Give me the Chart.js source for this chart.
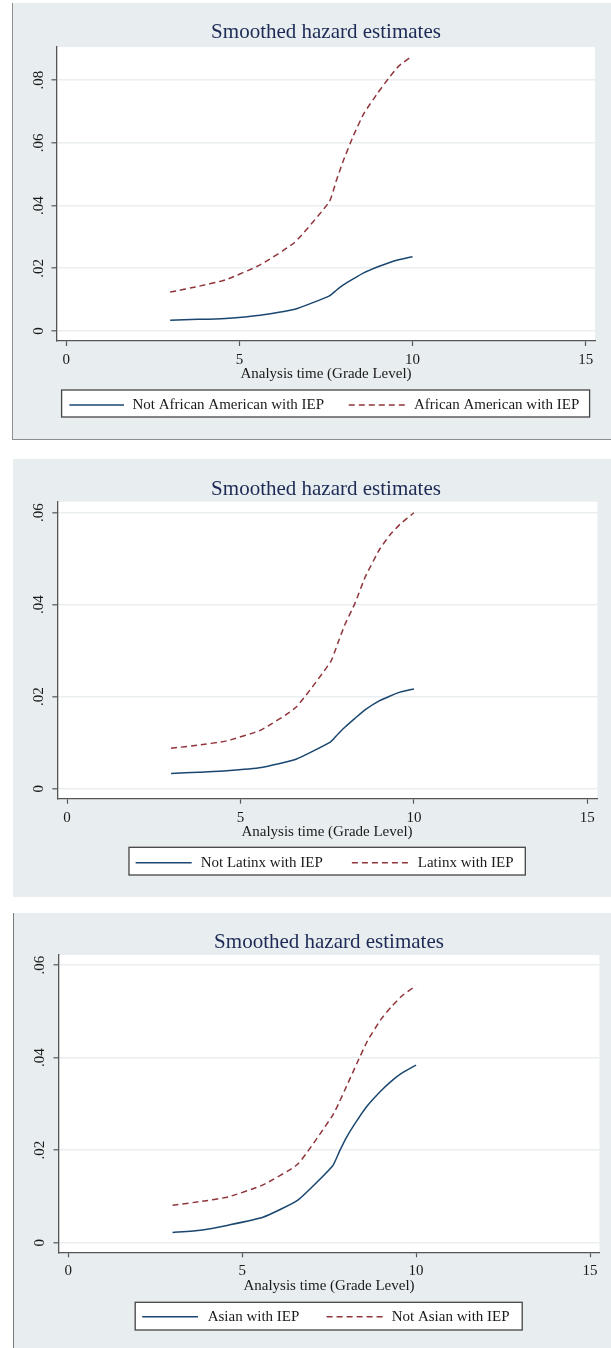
<!DOCTYPE html>
<html>
<head>
<meta charset="utf-8">
<script src="https://cdn.jsdelivr.net/npm/chart.js@4.4.0/dist/chart.umd.min.js"></script>
<style>
  html, body { margin: 0; padding: 0; background: #fff; }
  body { position: relative; width: 611px; height: 1348px; overflow: hidden; }
  .panel { position: absolute; background: #e8eef0; box-sizing: border-box; }
  canvas { position: absolute; left: 0; }
</style>
</head>
<body>
<div class="panel" style="left:12px;top:3px;width:599px;height:437px;border-left:1.5px solid #8e8e8e;border-bottom:1.5px solid #8e8e8e;"></div>
<div class="panel" style="left:13px;top:459px;width:598px;height:438px;"></div>
<div class="panel" style="left:13px;top:913px;width:598px;height:435px;border-left:1.5px solid #7a7a7a;"></div>

<canvas id="c1" width="611" height="440" style="top:0px;width:611px;height:440px;"></canvas>
<canvas id="c2" width="611" height="450" style="top:450px;width:611px;height:450px;"></canvas>
<canvas id="c3" width="611" height="443" style="top:905px;width:611px;height:443px;"></canvas>

<script>
var grades = [3, 3.8, 4.6, 5.6, 6.6, 7.6, 7.8, 8, 8.3, 8.6, 9, 9.3, 9.6, 10];

var notAfricanAmerican = [0.0034, 0.0037, 0.0040, 0.0050, 0.0069, 0.0112, 0.0130, 0.0147, 0.0167, 0.0186, 0.0205, 0.0217, 0.0227, 0.0237];
var africanAmerican    = [0.0124, 0.0142, 0.0163, 0.0211, 0.0283, 0.0413, 0.0480, 0.0543, 0.0625, 0.0695, 0.0760, 0.0805, 0.0845, 0.0878];

var notLatinx = [0.0033, 0.0036, 0.0039, 0.0046, 0.0064, 0.0102, 0.0118, 0.0133, 0.0153, 0.0172, 0.0191, 0.0201, 0.0210, 0.0217];
var latinx    = [0.0088, 0.0095, 0.0104, 0.0128, 0.0177, 0.0276, 0.0315, 0.0355, 0.0403, 0.0461, 0.0519, 0.0551, 0.0575, 0.0600];

var asian    = [0.0022, 0.0027, 0.0038, 0.0055, 0.0092, 0.0166, 0.0198, 0.0228, 0.0264, 0.0296, 0.0329, 0.0350, 0.0367, 0.0384];
var notAsian = [0.0081, 0.0089, 0.0099, 0.0125, 0.0170, 0.0275, 0.0305, 0.0338, 0.0388, 0.0436, 0.0484, 0.0511, 0.0534, 0.0556];

var xTicks = [0, 5, 10, 15];
var yTicksAA = [0, 0.02, 0.04, 0.06, 0.08];
var yTicksOther = [0, 0.02, 0.04, 0.06];

var chartTitle = 'Smoothed hazard estimates';
var xTitle = 'Analysis time (Grade Level)';

var SERIF = '"Liberation Serif", "Times New Roman", serif';
var NAVY = '#1a476f';
var MAROON = '#90353b';

function stataLabel(v) {
  if (Math.abs(v) < 1e-9) return '0';
  return v.toFixed(2).replace(/^0/, '');
}

function pts(ys) {
  return grades.map(function(g, i) { return { x: g, y: ys[i] }; });
}

// one Stata-like panel; box = pixel layout inside its canvas
function makePanel(canvasId, series, yTicks, yRange, xRange, box) {
  var canvas = document.getElementById(canvasId);
  var W = canvas.width, H = canvas.height;
  var yW = 30, xH = 30;

  var stataPlugin = {
    id: 'stataLook',
    beforeDraw: function(chart) {
      var a = chart.chartArea, ctx = chart.ctx;
      ctx.save();
      ctx.fillStyle = '#ffffff';
      ctx.fillRect(a.left, a.top, a.right - a.left, a.bottom - a.top);
      ctx.restore();
    },
    afterDraw: function(chart) {
      var ctx = chart.ctx;
      var ys = chart.scales.y;
      ctx.save();

      // title
      ctx.fillStyle = '#1c2a55';
      ctx.font = '21px ' + SERIF;
      ctx.textAlign = 'center';
      ctx.textBaseline = 'middle';
      ctx.fillText(chartTitle, box.titleX, box.titleY);

      // y tick labels, rotated like Stata
      ctx.fillStyle = '#1a1a1a';
      ctx.font = '15px ' + SERIF;
      ys.ticks.forEach(function(t) {
        var py = ys.getPixelForValue(t.value);
        ctx.save();
        ctx.translate(box.yLabelX, py);
        ctx.rotate(-Math.PI / 2);
        ctx.textAlign = 'center';
        ctx.textBaseline = 'middle';
        ctx.fillText(stataLabel(t.value), 0, 0);
        ctx.restore();
      });

      // x axis title
      ctx.textAlign = 'center';
      ctx.textBaseline = 'middle';
      ctx.fillText(xTitle, box.xTitleX, box.xTitleY);

      // legend box
      var lb = box.legend;
      ctx.fillStyle = '#ffffff';
      ctx.fillRect(lb.x0, lb.y0, lb.x1 - lb.x0, lb.y1 - lb.y0);
      ctx.strokeStyle = '#444';
      ctx.lineWidth = 1.3;
      ctx.strokeRect(lb.x0, lb.y0, lb.x1 - lb.x0, lb.y1 - lb.y0);

      chart.data.datasets.forEach(function(ds, i) {
        var e = lb.items[i];
        ctx.strokeStyle = ds.borderColor;
        ctx.lineWidth = ds.borderWidth;
        ctx.setLineDash(ds.borderDash || []);
        ctx.beginPath();
        ctx.moveTo(e.l0, lb.ty);
        ctx.lineTo(e.l1, lb.ty);
        ctx.stroke();
        ctx.setLineDash([]);
        ctx.fillStyle = '#1a1a1a';
        ctx.textAlign = 'left';
        ctx.textBaseline = 'middle';
        ctx.fillText(ds.label, e.tx, lb.ty);
      });
      ctx.restore();
    }
  };

  return new Chart(canvas, {
    type: 'line',
    data: {
      datasets: [
        {
          label: series[0].label,
          data: pts(series[0].data),
          borderColor: NAVY,
          borderWidth: 1.5,
          pointRadius: 0,
          tension: 0.15,
          fill: false
        },
        {
          label: series[1].label,
          data: pts(series[1].data),
          borderColor: MAROON,
          borderWidth: 1.5,
          borderDash: [6, 4],
          pointRadius: 0,
          tension: 0.15,
          fill: false
        }
      ]
    },
    options: {
      responsive: false,
      animation: false,
      devicePixelRatio: 1,
      layout: {
        padding: {
          left: box.left - yW,
          top: box.top,
          right: W - box.right,
          bottom: H - box.bottom - xH
        }
      },
      plugins: {
        legend: { display: false },
        title: { display: false },
        tooltip: { enabled: false }
      },
      scales: {
        x: {
          type: 'linear',
          min: xRange[0],
          max: xRange[1],
          afterBuildTicks: function(s) { s.ticks = xTicks.map(function(v) { return { value: v }; }); },
          afterFit: function(s) { s.height = xH; },
          ticks: {
            autoSkip: false,
            maxRotation: 0,
            padding: 5,
            color: '#1a1a1a',
            font: { family: SERIF, size: 15 }
          },
          grid: {
            drawOnChartArea: false,
            drawTicks: true,
            tickLength: 5,
            tickColor: '#555',
            tickWidth: 1.2
          },
          border: { display: true, color: '#555', width: 1.3 }
        },
        y: {
          type: 'linear',
          min: yRange[0],
          max: yRange[1],
          afterBuildTicks: function(s) { s.ticks = yTicks.map(function(v) { return { value: v }; }); },
          afterFit: function(s) { s.width = yW; },
          ticks: { display: false },
          grid: {
            color: '#e9eef1',
            lineWidth: 1.6,
            drawTicks: true,
            tickLength: 5,
            tickColor: '#555',
            tickWidth: 1.2
          },
          border: { display: true, color: '#555', width: 1.3 }
        }
      }
    },
    plugins: [stataPlugin]
  });
}

makePanel('c1',
  [{ label: 'Not African American with IEP', data: notAfricanAmerican },
   { label: 'African American with IEP', data: africanAmerican }],
  yTicksAA, [-0.0032, 0.0906], [-0.283, 15.27],
  {
    left: 56.5, top: 47, right: 595, bottom: 341,
    titleX: 326, titleY: 32, yLabelX: 39, xTitleX: 326, xTitleY: 374,
    legend: {
      x0: 61.6, y0: 390, x1: 589.6, y1: 417, ty: 405,
      items: [{ l0: 69.4, l1: 124, tx: 132.5 }, { l0: 348.8, l1: 405.3, tx: 413.9 }]
    }
  });

makePanel('c2',
  [{ label: 'Not Latinx with IEP', data: notLatinx },
   { label: 'Latinx with IEP', data: latinx }],
  yTicksOther, [-0.00217, 0.0624], [-0.28, 15.29],
  {
    left: 57.3, top: 51.7, right: 597.4, bottom: 348.7,
    titleX: 326, titleY: 39, yLabelX: 39, xTitleX: 327, xTitleY: 381.7,
    legend: {
      x0: 129, y0: 397.3, x1: 525.3, y1: 425, ty: 412.7,
      items: [{ l0: 135.6, l1: 191.7, tx: 200.7 }, { l0: 351.9, l1: 408, tx: 417.8 }]
    }
  });

makePanel('c3',
  [{ label: 'Asian with IEP', data: asian },
   { label: 'Not Asian with IEP', data: notAsian }],
  yTicksOther, [-0.00207, 0.0622], [-0.279, 15.27],
  {
    left: 58.5, top: 50, right: 599.4, bottom: 347.3,
    titleX: 329, titleY: 37.3, yLabelX: 40, xTitleX: 329, xTitleY: 381,
    legend: {
      x0: 135.2, y0: 397.3, x1: 522.2, y1: 425, ty: 411.7,
      items: [{ l0: 142.2, l1: 198, tx: 207.7 }, { l0: 326.6, l1: 383.9, tx: 391.7 }]
    }
  });
</script>
</body>
</html>
